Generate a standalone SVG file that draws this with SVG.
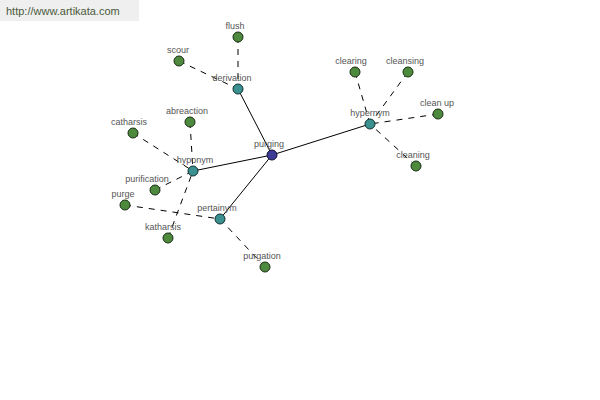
<svg xmlns="http://www.w3.org/2000/svg" width="600" height="400" viewBox="0 0 600 400">
<style>
.solid{stroke:#000;stroke-width:1;fill:none}
.dash{stroke:#000;stroke-width:1;fill:none;stroke-dasharray:6,6}
.leaf{fill:#4d8a3e;stroke:#1a2a12;stroke-width:1}
.rel{fill:#3b9090;stroke:#123030;stroke-width:1}
.root{fill:#3c3c96;stroke:#10102a;stroke-width:1}
text{font-family:"Liberation Sans",Arial,sans-serif;font-size:9px;fill:#555;text-anchor:middle}
</style>
<rect x="0" y="0" width="139" height="21" fill="#efefef"/>
<text x="6" y="15" style="font-size:11px;fill:#4a5a3a;text-anchor:start">http://www.artikata.com</text>
<g id="connectors">
<line class="solid" x1="272" y1="155" x2="238" y2="89"/>
<line class="solid" x1="272" y1="155" x2="370" y2="124"/>
<line class="solid" x1="272" y1="155" x2="193" y2="171"/>
<line class="solid" x1="272" y1="155" x2="220" y2="219"/>
<line class="dash" x1="238" y1="37" x2="238" y2="89"/>
<line class="dash" x1="179" y1="61" x2="238" y2="89"/>
<line class="dash" x1="355" y1="72" x2="370" y2="124"/>
<line class="dash" x1="408" y1="72" x2="370" y2="124"/>
<line class="dash" x1="438" y1="114" x2="370" y2="124"/>
<line class="dash" x1="416" y1="166" x2="370" y2="124"/>
<line class="dash" x1="133" y1="133" x2="193" y2="171"/>
<line class="dash" x1="190" y1="122" x2="193" y2="171"/>
<line class="dash" x1="155" y1="190" x2="193" y2="171"/>
<line class="dash" x1="168" y1="238" x2="193" y2="171"/>
<line class="dash" x1="125" y1="205" x2="220" y2="219"/>
<line class="dash" x1="265" y1="267" x2="220" y2="219"/>
</g>
<g id="derivation"><circle class="rel" cx="238" cy="89" r="5"/><text x="232" y="81">derivation</text></g>
<g id="flush"><circle class="leaf" cx="238" cy="37" r="5"/><text x="235" y="29">flush</text></g>
<g id="scour"><circle class="leaf" cx="179" cy="61" r="5"/><text x="178" y="53">scour</text></g>
<g id="hypernym"><circle class="rel" cx="370" cy="124" r="5"/><text x="370" y="116">hypernym</text></g>
<g id="clearing"><circle class="leaf" cx="355" cy="72" r="5"/><text x="351" y="64">clearing</text></g>
<g id="cleansing"><circle class="leaf" cx="408" cy="72" r="5"/><text x="405" y="64">cleansing</text></g>
<g id="cleanup"><circle class="leaf" cx="438" cy="114" r="5"/><text x="437" y="106">clean up</text></g>
<g id="cleaning"><circle class="leaf" cx="416" cy="166" r="5"/><text x="413" y="158">cleaning</text></g>
<g id="hyponym"><circle class="rel" cx="193" cy="171" r="5"/><text x="195" y="163">hyponym</text></g>
<g id="catharsis"><circle class="leaf" cx="133" cy="133" r="5"/><text x="129" y="125">catharsis</text></g>
<g id="abreaction"><circle class="leaf" cx="190" cy="122" r="5"/><text x="187" y="114">abreaction</text></g>
<g id="purification"><circle class="leaf" cx="155" cy="190" r="5"/><text x="147" y="182">purification</text></g>
<g id="purge"><circle class="leaf" cx="125" cy="205" r="5"/><text x="123" y="197">purge</text></g>
<g id="katharsis"><circle class="leaf" cx="168" cy="238" r="5"/><text x="163" y="230">katharsis</text></g>
<g id="pertainym"><circle class="rel" cx="220" cy="219" r="5"/><text x="217" y="211">pertainym</text></g>
<g id="purgation"><circle class="leaf" cx="265" cy="267" r="5"/><text x="262" y="259">purgation</text></g>
<g id="purging"><circle class="root" cx="272" cy="155" r="5"/><text x="269" y="147">purging</text></g>
</svg>
